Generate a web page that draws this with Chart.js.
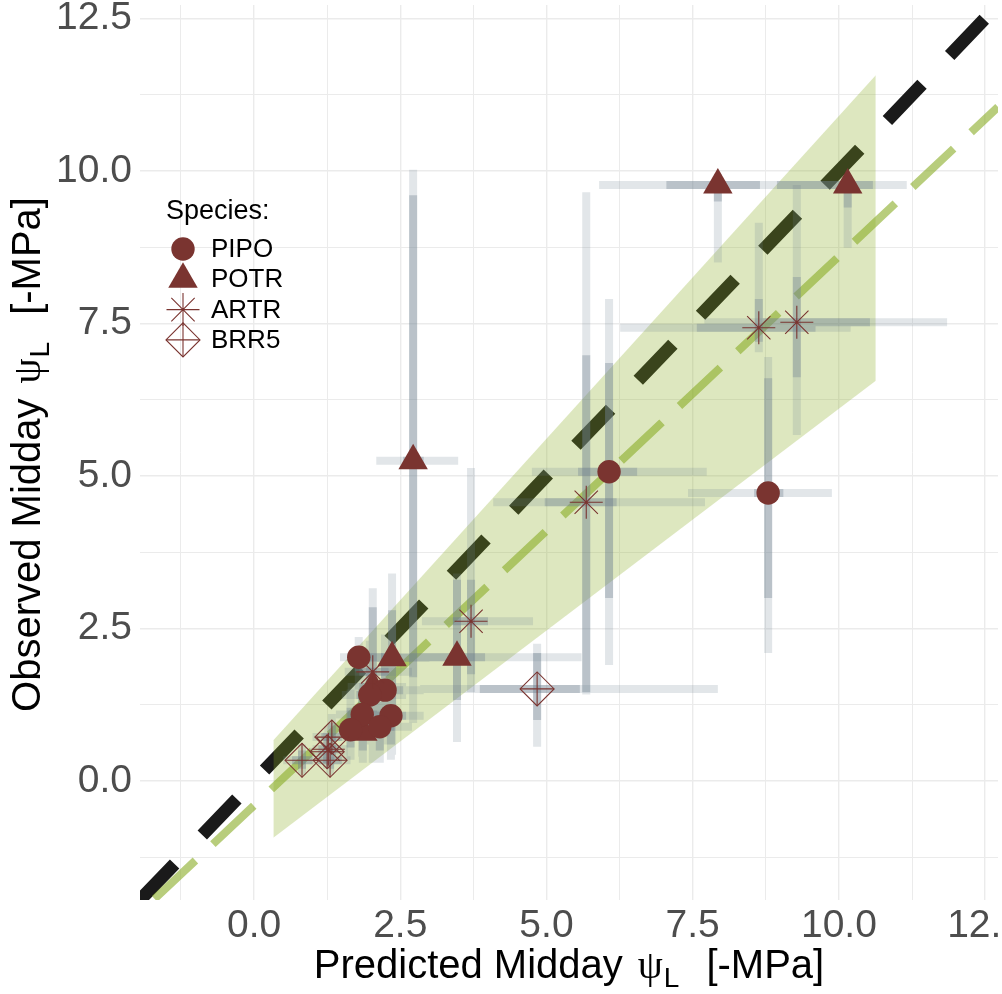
<!DOCTYPE html>
<html>
<head>
<meta charset="utf-8">
<title>Predicted vs observed midday leaf water potential</title>
<script src="https://cdn.jsdelivr.net/npm/chart.js@4.4.1/dist/chart.umd.min.js"></script>
<style>
  html, body { margin: 0; padding: 0; background: #fff; overflow: hidden; }
  canvas { display: block; }
</style>
</head>
<body>
<canvas id="chart1" width="1002" height="994"></canvas>
<script>
// ---- data ----
var speciesNames = ['PIPO', 'POTR', 'ARTR', 'BRR5'];
var legendTitle = 'Species:';
var xTitle = 'Predicted Midday';
var yTitle = 'Observed Midday';
var psiSymbol = '\u03C8';
var psiSub = 'L';
var unitText = '[-MPa]';

var majorTicks = [0, 2.5, 5, 7.5, 10, 12.5];
var minorTicks = [-1.25, 1.25, 3.75, 6.25, 8.75, 11.25];
var axisMin = -1.95;
var axisMax = 12.72;

var species = ['PIPO','PIPO','PIPO','PIPO','PIPO','PIPO','PIPO','PIPO','PIPO',
               'POTR','POTR','POTR','POTR','POTR','POTR','POTR',
               'ARTR','ARTR','ARTR','ARTR','ARTR','ARTR',
               'BRR5','BRR5','BRR5','BRR5','BRR5'];
var pred = [6.07, 8.79, 1.79, 2.24, 1.98, 2.34, 1.85, 1.65, 2.15,
            7.93, 10.15, 2.72, 3.47, 2.36, 2.03, 1.86,
            8.63, 9.28, 5.68, 3.71, 2.03, 1.27,
            4.84, 0.82, 1.33, 1.25, 1.30];
var obs = [5.07, 4.72, 2.03, 1.49, 1.41, 1.07, 1.09, 0.84, 0.89,
           9.77, 9.77, 5.25, 2.03, 2.02, 1.54, 0.80,
           7.43, 7.52, 4.57, 2.62, 1.79, 0.52,
           1.51, 0.34, 0.72, 0.48, 0.34];
// wide (light) and narrow (dark) ranges
var predLo95 = [4.75, 7.42, 1.47, 1.70, 1.50, 1.90, 1.40, 1.30, 1.70,
                5.90, 8.87, 2.09, 2.60, 1.90, 1.60, 1.50,
                6.26, 7.70, 4.09, 2.87, 1.55, 1.00,
                2.84, 0.50, 1.00, 0.95, 1.00];
var predHi95 = [7.74, 9.88, 2.60, 2.90, 2.60, 2.90, 2.40, 2.10, 2.70,
                9.20, 11.16, 3.49, 5.60, 3.00, 2.60, 2.30,
                10.20, 11.85, 7.71, 4.77, 2.70, 1.60,
                7.93, 1.20, 1.70, 1.60, 1.65];
var predLo50 = [5.54, 8.55, 1.60, 1.95, 1.75, 2.10, 1.60, 1.45, 1.90,
                7.05, 8.94, 2.55, 2.67, 2.10, 1.80, 1.65,
                7.57, 8.70, 4.97, 3.40, 1.80, 1.10,
                3.86, 0.65, 1.15, 1.10, 1.10];
var predHi50 = [6.55, 9.05, 2.20, 2.55, 2.25, 2.60, 2.10, 1.90, 2.40,
                8.65, 10.58, 2.90, 3.95, 2.70, 2.30, 2.10,
                9.60, 10.53, 6.20, 4.00, 2.30, 1.45,
                5.57, 1.00, 1.50, 1.40, 1.50];
var obsLo95 = [1.90, 2.10, 1.50, 0.60, 0.60, 0.35, 0.40, 0.35, 0.30,
               8.50, 8.74, 0.95, 0.64, 0.43, 0.60, 0.30,
               7.03, 5.67, 1.42, 1.46, 0.30, 0.20,
               0.56, 0.10, 0.35, 0.20, 0.10];
var obsHi95 = [7.90, 6.95, 2.36, 2.40, 2.30, 2.00, 1.90, 1.50, 1.60,
               9.95, 9.90, 10.02, 3.40, 3.40, 2.70, 1.40,
               9.15, 9.77, 9.65, 5.13, 3.16, 0.90,
               2.25, 0.60, 1.10, 0.80, 0.60];
var obsLo50 = [3.00, 3.00, 1.80, 0.90, 1.00, 0.60, 0.70, 0.55, 0.50,
               9.50, 9.40, 1.70, 1.33, 1.20, 1.00, 0.50,
               7.20, 6.62, 1.46, 1.75, 1.00, 0.35,
               1.00, 0.20, 0.50, 0.30, 0.20];
var obsHi50 = [6.85, 6.60, 2.20, 2.10, 1.90, 1.60, 1.50, 1.20, 1.30,
               9.90, 9.90, 9.60, 3.30, 2.80, 2.20, 1.10,
               7.90, 8.26, 6.98, 3.30, 2.85, 0.70,
               2.10, 0.50, 0.95, 0.65, 0.50];

// fitted line and its band
var fitSlope = 0.90;
var fitIntercept = -0.40;
var bandX = [0.33, 10.63];
var bandUpper = [0.67, 11.57];
var bandLower = [-0.93, 6.56];

// ---- look ----
var maroon = '#7A3430';
var fontSans = '"Liberation Sans", Arial, sans-serif';
var markerStyle = {
  PIPO: {pointStyle: 'circle', radius: 11.7, fill: maroon, line: 0},
  POTR: {pointStyle: 'triangle', radius: 17, fill: maroon, line: 0},
  ARTR: {pointStyle: 'star', radius: 16.5, fill: 'rgba(0,0,0,0)', line: 1.1},
  BRR5: {pointStyle: 'rectRot', radius: 17, fill: 'rgba(0,0,0,0)', line: 1.1}
};

function speciesPoints(name) {
  var pts = [];
  for (var i = 0; i < species.length; i++) {
    if (species[i] === name) pts.push({x: pred[i], y: obs[i]});
  }
  return pts;
}

function hBars(lo, hi) {
  var d = [];
  for (var i = 0; i < pred.length; i++) {
    d.push({x: lo[i], y: obs[i]}, {x: hi[i], y: obs[i]}, {x: null, y: null});
  }
  return d;
}

function vBars(lo, hi) {
  var d = [];
  for (var i = 0; i < pred.length; i++) {
    d.push({x: pred[i], y: lo[i]}, {x: pred[i], y: hi[i]}, {x: null, y: null});
  }
  return d;
}

function barSet(data, color, order) {
  return {
    type: 'line', data: data, borderColor: color, borderWidth: 8,
    borderCapStyle: 'butt', pointRadius: 0, spanGaps: false, fill: false, order: order
  };
}

function pointSet(name, style, order) {
  var m = markerStyle[name];
  return {
    type: 'scatter', data: speciesPoints(name), pointStyle: style || m.pointStyle,
    pointRadius: m.radius, backgroundColor: m.fill, borderColor: maroon,
    borderWidth: m.line, order: order
  };
}

function isMajor(v) {
  return Math.abs(v / 2.5 - Math.round(v / 2.5)) < 1e-6;
}

function setTicks(scale) {
  scale.ticks = minorTicks.concat(majorTicks).sort(function(a, b) { return a - b; })
    .map(function(v) { return {value: v}; });
}

// no extra room for the edge labels, the last x label gets cut like in the png
function noPad(s) {
  s.paddingLeft = 0; s.paddingRight = 0; s.paddingTop = 0; s.paddingBottom = 0;
}

var gridOpts = {
  color: '#EBEBEB',
  drawTicks: false,
  lineWidth: function(c) { return c.tick && isMajor(c.tick.value) ? 1.4 : 1; }
};

// axis titles with the subscript L
function drawTitle(ctx, label, cx, cy, rotate) {
  ctx.save();
  ctx.translate(cx, cy);
  if (rotate) ctx.rotate(-Math.PI / 2);
  ctx.fillStyle = '#000';
  ctx.textBaseline = 'alphabetic';
  ctx.textAlign = 'left';
  var mainFont = '40px ' + fontSans;
  var psiFont = '40px "Liberation Serif", "DejaVu Serif", serif';
  var subFont = '28px ' + fontSans;
  ctx.font = mainFont; var w1 = ctx.measureText(label).width, w4 = ctx.measureText(unitText).width;
  ctx.font = psiFont; var w2 = ctx.measureText(psiSymbol).width;
  ctx.font = subFont; var w3 = ctx.measureText(psiSub).width;
  var g1 = 15, g2 = 1, g3 = 27;
  var total = w1 + g1 + w2 + g2 + w3 + g3 + w4;
  var x = -total / 2;
  ctx.font = mainFont; ctx.fillText(label, x, 0); x += w1 + g1;
  ctx.font = psiFont; ctx.fillText(psiSymbol, x, 0); x += w2 + g2;
  ctx.font = subFont; ctx.fillText(psiSub, x, 9); x += w3 + g3;
  ctx.font = mainFont; ctx.fillText(unitText, x, 0);
  ctx.restore();
}

var extrasPlugin = {
  id: 'extras',
  afterDraw: function(chart) {
    var ctx = chart.ctx;
    var area = chart.chartArea;
    drawTitle(ctx, xTitle, (area.left + area.right) / 2, 978, false);
    drawTitle(ctx, yTitle, 40, (area.top + area.bottom) / 2 + 2, true);

    // legend inside the panel
    ctx.save();
    ctx.fillStyle = '#000';
    ctx.textBaseline = 'middle';
    ctx.textAlign = 'left';
    ctx.font = '27px ' + fontSans;
    ctx.fillText(legendTitle, 166, 212);
    ctx.font = '26px ' + fontSans;
    speciesNames.forEach(function(name, i) {
      var m = markerStyle[name];
      var y = 249 + i * 30.3;
      ctx.fillStyle = m.fill;
      ctx.strokeStyle = maroon;
      ctx.lineWidth = m.line;
      Chart.helpers.drawPoint(ctx, {pointStyle: m.pointStyle, radius: m.radius, rotation: 0, borderWidth: m.line}, 183, y);
      if (name === 'BRR5') {
        Chart.helpers.drawPoint(ctx, {pointStyle: 'cross', radius: m.radius, rotation: 0, borderWidth: m.line}, 183, y);
      }
      ctx.fillStyle = '#000';
      ctx.fillText(name, 211, y + 1);
    });
    ctx.restore();
  }
};

var ctx = document.getElementById('chart1').getContext('2d');
var myChart = new Chart(ctx, {
  type: 'scatter',
  data: {
    datasets: [
      // 1:1 line
      {
        type: 'line', data: [{x: axisMin, y: axisMin}, {x: axisMax, y: axisMax}],
        borderColor: '#1A1A1A', borderWidth: 13, borderDash: [50, 40], borderCapStyle: 'butt',
        pointRadius: 0, fill: false, clip: 0, order: 30
      },
      // band
      {
        type: 'line', data: [{x: bandX[0], y: bandUpper[0]}, {x: bandX[1], y: bandUpper[1]}],
        borderColor: 'rgba(0,0,0,0)', borderWidth: 0, pointRadius: 0,
        fill: '+1', backgroundColor: 'rgba(137,172,36,0.29)', order: 29
      },
      {
        type: 'line', data: [{x: bandX[0], y: bandLower[0]}, {x: bandX[1], y: bandLower[1]}],
        borderColor: 'rgba(0,0,0,0)', borderWidth: 0, pointRadius: 0, fill: false, order: 29
      },
      // fitted line
      {
        type: 'line',
        data: [{x: axisMin, y: fitIntercept + fitSlope * axisMin}, {x: axisMax, y: fitIntercept + fitSlope * axisMax}],
        borderColor: 'rgba(137,172,36,0.6)', borderWidth: 8, borderDash: [56, 24], borderDashOffset: 60,
        borderCapStyle: 'butt', pointRadius: 0, fill: false, clip: 0, order: 28
      },
      barSet(hBars(predLo95, predHi95), 'rgba(112,128,144,0.2)', 27),
      barSet(vBars(obsLo95, obsHi95), 'rgba(112,128,144,0.2)', 26),
      barSet(hBars(predLo50, predHi50), 'rgba(112,128,144,0.35)', 25),
      barSet(vBars(obsLo50, obsHi50), 'rgba(112,128,144,0.35)', 24),
      pointSet('POTR', null, 4),
      pointSet('PIPO', null, 3),
      pointSet('BRR5', null, 2),
      pointSet('BRR5', 'cross', 1),
      pointSet('ARTR', null, 0)
    ]
  },
  options: {
    responsive: false,
    animation: false,
    events: [],
    layout: {padding: {left: 0, right: 4, top: 5, bottom: 0}, autoPadding: false},
    plugins: {legend: {display: false}, tooltip: {enabled: false}},
    scales: {
      x: {
        type: 'linear', min: axisMin, max: axisMax,
        afterBuildTicks: setTicks,
        afterFit: function(s) { s.height = 94; noPad(s); },
        grid: gridOpts,
        border: {display: false},
        ticks: {
          autoSkip: false, maxRotation: 0, padding: 3, color: '#4D4D4D',
          font: {size: 39, family: fontSans},
          callback: function(v) { return isMajor(v) ? v.toFixed(1) : ''; }
        }
      },
      y: {
        type: 'linear', min: axisMin, max: axisMax,
        afterBuildTicks: setTicks,
        afterFit: function(s) { s.width = 140; noPad(s); },
        grid: gridOpts,
        border: {display: false},
        ticks: {
          autoSkip: false, padding: 8, color: '#4D4D4D',
          font: {size: 39, family: fontSans},
          callback: function(v) { return isMajor(v) ? v.toFixed(1) : ''; }
        }
      }
    }
  },
  plugins: [extrasPlugin]
});
</script>
</body>
</html>
